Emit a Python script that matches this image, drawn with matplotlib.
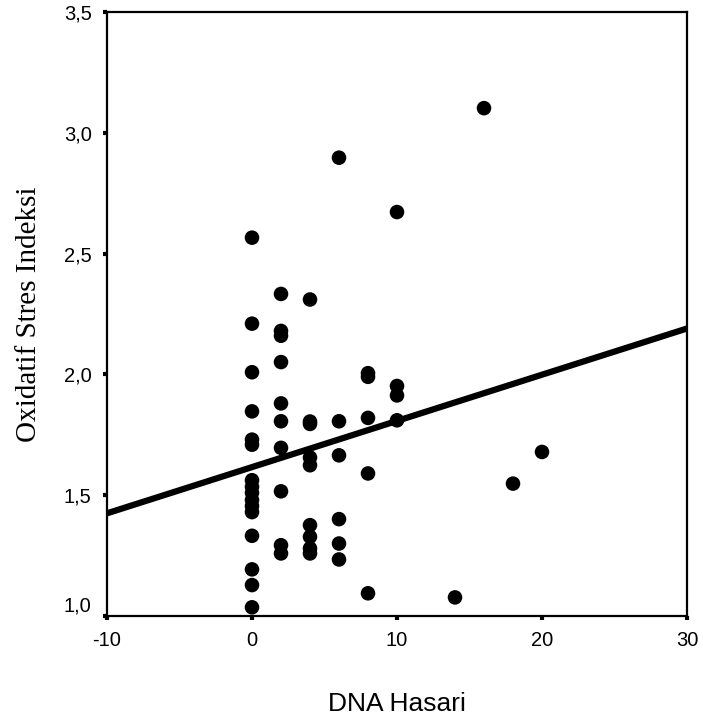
import numpy as np
import matplotlib
matplotlib.use("Agg")
import matplotlib.pyplot as plt

plt.rcParams["axes.unicode_minus"] = False

# DNA damage score (x) and oxidative stress index (y)
dna_0 = [2.566, 2.21, 2.009, 1.847, 1.73, 1.709, 1.562, 1.535, 1.51, 1.48, 1.455, 1.43, 1.332, 1.193, 1.128, 1.036]
dna_2 = [2.333, 2.18, 2.16, 2.051, 1.88, 1.806, 1.696, 1.516, 1.293, 1.259]
dna_4 = [2.310, 1.805, 1.795, 1.656, 1.624, 1.376, 1.328, 1.28, 1.259]
dna_6 = [2.897, 1.806, 1.665, 1.401, 1.30, 1.234]
dna_8 = [2.005, 1.99, 1.82, 1.590, 1.094]
dna_10 = [2.672, 1.952, 1.913, 1.81]
dna_other_x = [14, 16, 18, 20]
dna_other_y = [1.077, 3.102, 1.548, 1.679]

# fit line end points (as drawn in the figure)
fit_x = [-10, 30]
fit_y = [1.425, 2.19]

x_ticks = [-10, 0, 10, 20, 30]
y_ticks = [1.0, 1.5, 2.0, 2.5, 3.0, 3.5]
y_ticklabels = ["1,0", "1,5", "2,0", "2,5", "3,0", "3,5"]

xs = []
ys = []
for xv, col in [(0, dna_0), (2, dna_2), (4, dna_4), (6, dna_6), (8, dna_8), (10, dna_10)]:
    xs += [xv] * len(col)
    ys += col
xs += dna_other_x
ys += dna_other_y

fig = plt.figure(figsize=(7.03, 7.26), dpi=100)
ax = fig.add_axes([107 / 703, 110 / 726, 580 / 703, 604 / 726])

ax.plot(fit_x, fit_y, color="black", lw=4.5, solid_capstyle="butt", zorder=2)
ax.scatter(xs, ys, s=110, color="black", edgecolors="none", zorder=3)

ax.set_xlim(-10, 30)
ax.set_ylim(1.0, 3.5)
ax.set_xticks(x_ticks)
ax.set_yticks(y_ticks)
ax.set_yticklabels(y_ticklabels)

for sp in ax.spines.values():
    sp.set_linewidth(1.6)
ax.tick_params(direction="out", length=3, width=3, pad=8)
for lbl in ax.get_xticklabels() + ax.get_yticklabels():
    lbl.set_fontfamily("Liberation Sans")
    lbl.set_fontsize(14.5)
ax.get_yticklabels()[0].set_verticalalignment("bottom")

ax.set_xlabel("DNA Hasari", family="Liberation Sans", fontsize=19, labelpad=30)
ax.set_ylabel("Oxidatif Stres Indeksi", family="Liberation Serif", fontsize=21, labelpad=16)

fig.savefig("out.png", dpi=100)
